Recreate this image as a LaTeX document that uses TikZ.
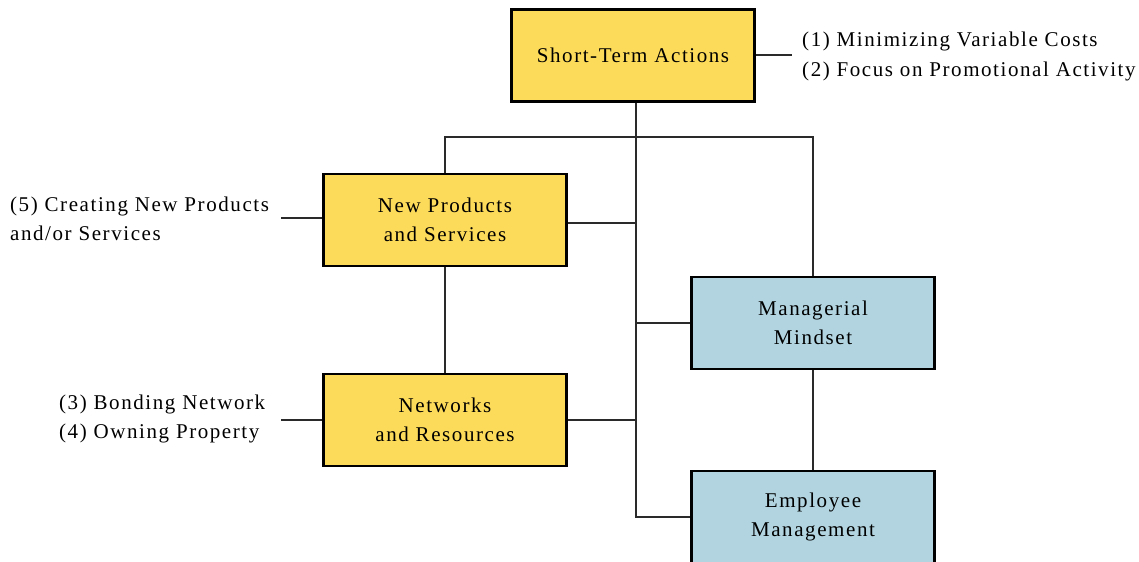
\documentclass[tikz,border=0pt]{standalone}
\usepackage{fontspec}
\setmainfont{Liberation Serif}[LetterSpace=7.5]
\definecolor{boxgold}{HTML}{FDDB5A}
\definecolor{boxblue}{HTML}{B1D4E0}
\definecolor{wire}{HTML}{2A2A2A}
\begin{document}
\begin{tikzpicture}[x=1bp,y=-1bp,
  every node/.style={font=\fontsize{21bp}{29.5bp}\selectfont},
  box/.style={draw=black, line width=2.8bp, minimum width=243bp, minimum height=92bp,
              align=center, inner sep=0pt},
  goldbox/.style={box, fill=boxgold},
  bluebox/.style={box, fill=boxblue},
  label/.style={align=left, inner sep=0pt},
  link/.style={draw=wire, line width=1.6bp}]
\useasboundingbox (0,0) rectangle (1139,562);
\clip (0,0) rectangle (1139,562);

% boxes
\node[goldbox] (sta) at (633,55.5) {Short-Term Actions};
\node[goldbox] (nps) at (445,220) {New Products\\and Services};
\node[goldbox] (nr)  at (445,420) {Networks\\and Resources};
\node[bluebox] (mm)  at (813,323) {Managerial\\Mindset};
\node[bluebox] (em)  at (813,517) {Employee\\Management};

% side labels
\node[label, anchor=west] (lbl12) at (802,56.5) {(1) Minimizing Variable Costs\\(2) Focus on Promotional Activity};
\node[label, anchor=west] (lbl5)  at (10,219) {(5) Creating New Products\\and/or Services};
\node[label, anchor=west] (lbl34) at (59,419) {(3) Bonding Network\\(4) Owning Property};

\coordinate (c12) at (792,55);
\coordinate (c5)  at (281,218);
\coordinate (c34) at (281,420);
\coordinate (bar) at (636,137);
\coordinate (npsout) at (568,223);

% connectors
\draw[link] ([xshift=3bp]sta.south) |- (em.west);
\draw[link] (nps.north) |- (bar) -| (mm.north);
\draw[link] (npsout) -- (npsout -| bar);
\draw[link] (nr.east) -- (nr.east -| bar);
\draw[link] (mm.west) -- (mm.west -| bar);
\draw[link] (nps.south) -- (nr.north);
\draw[link] (mm.south) -- (em.north);
\draw[link] (sta.east |- c12) -- (c12);
\draw[link] (c5) -- (nps.west |- c5);
\draw[link] (c34) -- (nr.west);
\end{tikzpicture}
\end{document}
